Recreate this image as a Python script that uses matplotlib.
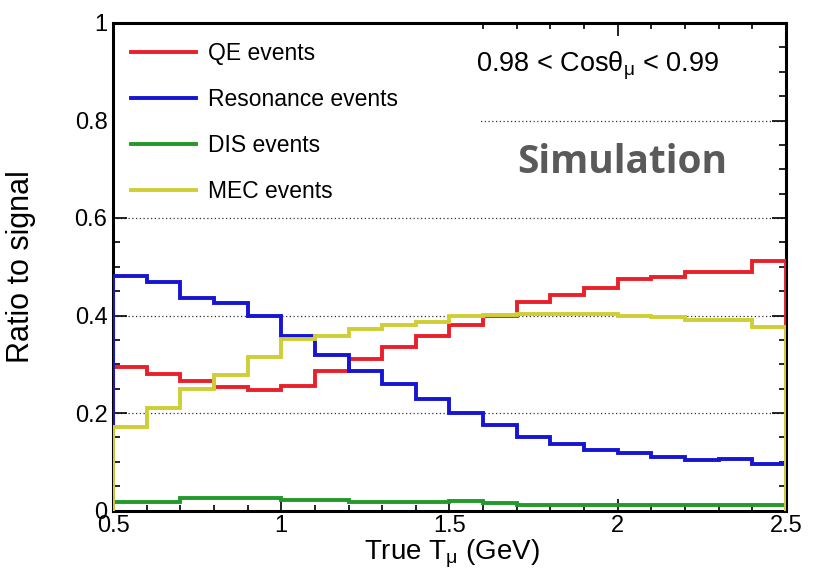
import numpy as np
import matplotlib
matplotlib.use("Agg")
import matplotlib.pyplot as plt
from matplotlib.ticker import MultipleLocator, FuncFormatter
from matplotlib.patches import Rectangle
from matplotlib.lines import Line2D

plt.rcParams['font.family'] = ['Liberation Sans', 'DejaVu Sans']
plt.rcParams['mathtext.fontset'] = 'custom'
plt.rcParams['mathtext.rm'] = 'Liberation Sans'
plt.rcParams['mathtext.it'] = 'Liberation Sans'
plt.rcParams['mathtext.bf'] = 'Liberation Sans:bold'

# bin edges (GeV)
edges = np.round(np.arange(0.5, 2.5001, 0.1), 2)

qe = [0.295, 0.280, 0.266, 0.254, 0.247, 0.256, 0.287, 0.310, 0.335, 0.358,
      0.380, 0.399, 0.428, 0.443, 0.456, 0.474, 0.480, 0.489, 0.489, 0.512]
res = [0.481, 0.468, 0.435, 0.425, 0.398, 0.357, 0.319, 0.287, 0.259, 0.228,
       0.201, 0.175, 0.151, 0.136, 0.124, 0.117, 0.109, 0.104, 0.106, 0.095]
dis = [0.018, 0.018, 0.025, 0.025, 0.025, 0.0215, 0.0215, 0.018, 0.018, 0.018,
       0.0195, 0.016, 0.011, 0.011, 0.011, 0.011, 0.011, 0.011, 0.011, 0.011]
mec = [0.172, 0.210, 0.249, 0.278, 0.314, 0.352, 0.358, 0.373, 0.380, 0.387,
       0.398, 0.402, 0.404, 0.404, 0.404, 0.398, 0.397, 0.391, 0.391, 0.377]

labels = ["QE events", "Resonance events", "DIS events", "MEC events"]
colors = {"QE events": "#e8202a", "Resonance events": "#1616d2",
          "DIS events": "#22992a", "MEC events": "#cfcf35"}
series = {"QE events": qe, "Resonance events": res, "DIS events": dis, "MEC events": mec}

fig = plt.figure(figsize=(8.19, 5.78), dpi=100)
ax = fig.add_axes([113/819, 1 - 510.5/578, (786 - 113)/819, (510.5 - 23)/578])

ax.set_xlim(0.5, 2.5)
ax.set_ylim(0, 1)

lw = 2.8
order = ["DIS events", "QE events", "Resonance events", "MEC events"]
for i, name in enumerate(order):
    ax.stairs(series[name], edges, baseline=0, color=colors[name], lw=lw,
              zorder=3 + i * 0.1, label=name)

# grid
ax.yaxis.grid(True, which='major', linestyle=(0, (1, 2)), color='#333333', lw=0.9)
ax.set_axisbelow(True)

# white legend background
ax.add_patch(Rectangle((0.002, 0.62), (478 - 113) / 673, 0.375, transform=ax.transAxes,
                       facecolor='white', edgecolor='none', zorder=1.5))

proxies = [Line2D([0], [0], color=colors[n], lw=lw) for n in labels]
leg = ax.legend(proxies, labels, loc='upper left', bbox_to_anchor=(0.027, 0.961),
                frameon=False, fontsize=16.5, handlelength=2.85, handletextpad=0.5,
                labelspacing=1.0, borderpad=0, borderaxespad=0)
leg.set_zorder(5)

# ticks
ax.xaxis.set_major_locator(MultipleLocator(0.5))
ax.xaxis.set_minor_locator(MultipleLocator(0.1))
ax.yaxis.set_major_locator(MultipleLocator(0.2))
ax.yaxis.set_minor_locator(MultipleLocator(0.05))
fmt = FuncFormatter(lambda v, p: ('%g' % round(v, 3)))
ax.xaxis.set_major_formatter(fmt)
ax.yaxis.set_major_formatter(fmt)
ax.tick_params(which='both', direction='in', top=True, right=True, width=1.2,
               labelsize=17, colors='black')
ax.tick_params(axis='y', which='major', length=10, pad=4)
ax.tick_params(axis='y', which='minor', length=5)
ax.tick_params(axis='x', which='major', length=9, pad=3)
ax.tick_params(axis='x', which='minor', length=4)
for s in ax.spines.values():
    s.set_linewidth(2.2)
    s.set_zorder(2.5)

ax.set_xlabel(r"True T$_{\mathrm{\mu}}$ (GeV)", fontsize=20)
ax.set_ylabel("Ratio to signal", fontsize=22)
ax.xaxis.label.set_va('center')
ax.xaxis.set_label_coords(0.503, -0.089)
ax.yaxis.set_label_coords(-0.115, 0.5)

ax.text(0.539, 0.913, r"0.98 < Cosθ$_{\mathrm{\mu}}$ < 0.99", transform=ax.transAxes,
        fontsize=19.5, ha='left', va='center', zorder=6)
ax.text(0.756, 0.713, "Simulation", transform=ax.transAxes, fontsize=28,
        fontweight='bold', family='Open Sans', color='#5a5a5a', ha='center',
        va='center', zorder=6)

fig.savefig("out.png", dpi=100)
